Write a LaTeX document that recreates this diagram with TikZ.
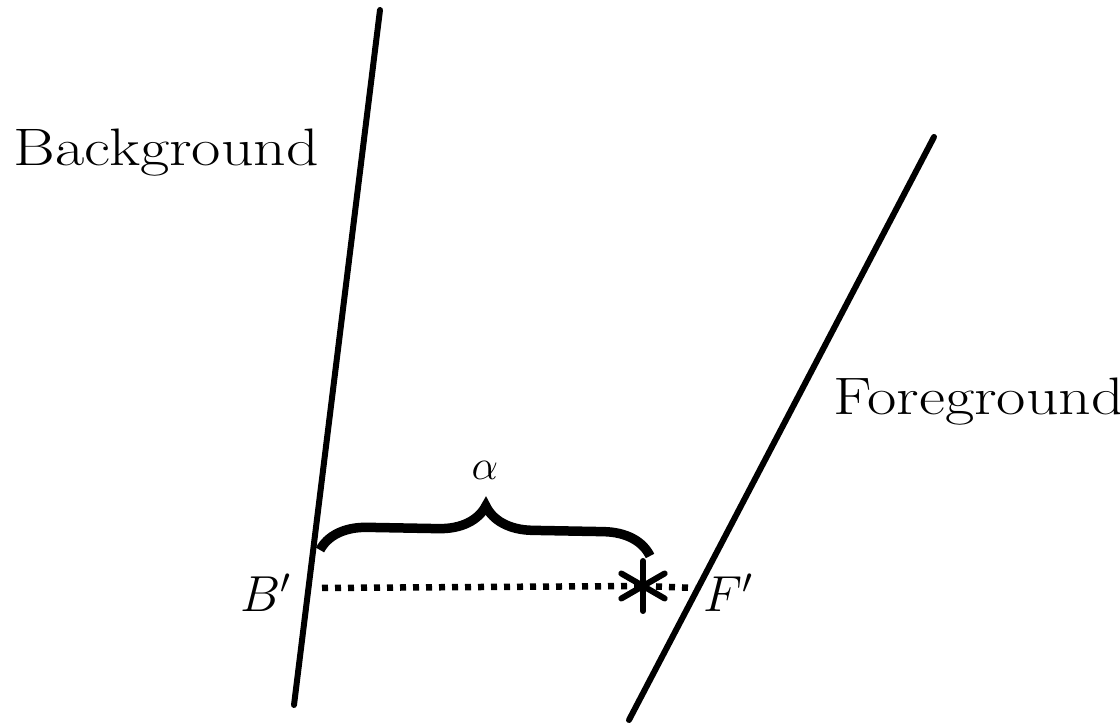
\documentclass[tikz,border=0pt]{standalone}
\usepackage{amsmath,amssymb}
\usepackage{xcolor}
\usepackage{tikz}
\usetikzlibrary{positioning,decorations.pathreplacing}

\begin{document}
\begin{tikzpicture}[
  edge/.style={line width=0.06cm,line cap=round},
  word/.style={font=\fontsize{15}{18}\selectfont,inner sep=0,
    xscale=1.21,transform shape},
  mathlabel/.style={font=\fontsize{14.5}{17}\selectfont,inner sep=0},
  gap/.style={line width=0.065cm,dash pattern=on 0.06cm off 0.07cm},
  bracket/.style={decorate,decoration={brace,amplitude=0.47cm},line width=0.095cm},
  starline/.style={line width=0.06cm,line cap=round}
]
\useasboundingbox (0,0) rectangle (11.2,-7.23);
% the two surfaces
\coordinate (bgtop) at (3.80,-0.10);
\coordinate (bgbot) at (2.94,-7.05);
\coordinate (fgtop) at (9.34,-1.37);
\coordinate (fgbot) at (6.29,-7.20);
\draw[edge] (bgtop) -- (bgbot);
\draw[edge] (fgtop) -- (fgbot);
\node[word,anchor=base west] (bgtext) at (0.13,-1.66) {Background};
\node[word,anchor=base west] (fgtext) at (8.33,-4.15) {Foreground};
% points on the scan line
\coordinate (bp) at (3.22,-5.88);
\coordinate (star) at (6.43,-5.86);
\coordinate (fp) at (6.95,-5.88);
\draw[gap] (bp) -- (star);
\draw[gap] (star) -- (fp);
\foreach \a in {90,30,150}
  \draw[starline] ([shift={(\a:0.25)}]star) -- ([shift={(\a+180:0.25)}]star);
\node[mathlabel,anchor=base east] (bprime) at (2.93,-6.12) {$B'$};
\node[mathlabel,anchor=base west] (fprime) at (7.03,-6.12) {$F'$};
% brace over the offset
\coordinate (bl) at (3.20,-5.50);
\coordinate (br) at (6.50,-5.56);
\draw[bracket] (bl) -- (br);
\node[font=\fontsize{11.5}{13}\selectfont] (alpha) at (4.85,-4.70) {$\alpha$};
\end{tikzpicture}
\end{document}
